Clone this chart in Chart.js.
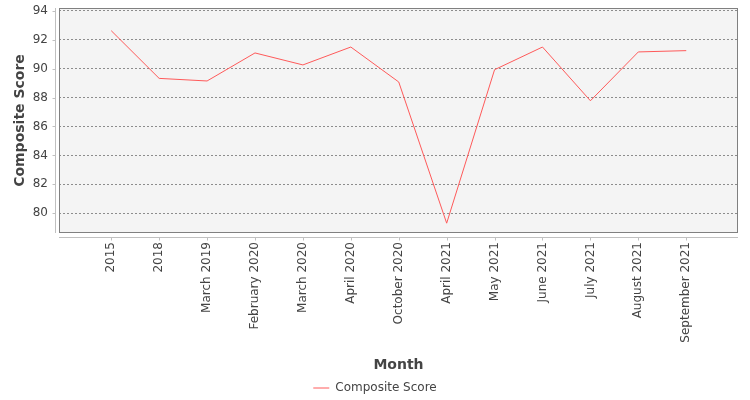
<!DOCTYPE html>
<html>
<head>
<meta charset="utf-8">
<script src="https://cdn.jsdelivr.net/npm/chart.js@4"></script>
<style>
  html, body { margin: 0; padding: 0; background: #ffffff; }
  #wrap { width: 750px; height: 400px; }
</style>
</head>
<body>
<div id="wrap"><canvas id="c" width="750" height="400"></canvas></div>
<script>
const categories = ["2015", "2018", "March 2019", "February 2020", "March 2020", "April 2020",
  "October 2020", "April 2021", "May 2021", "June 2021", "July 2021", "August 2021", "September 2021"];
const compositeScore = [92.63, 89.33, 89.15, 91.09, 90.26, 91.50, 89.08, 79.31, 89.93, 91.50, 87.78, 91.16, 91.25];
const yTickValues = [80, 82, 84, 86, 88, 90, 92, 94];
const seriesName = "Composite Score";
const xTitle = "Month";
const yTitle = "Composite Score";

const FONT = "'DejaVu Sans', 'Liberation Sans', sans-serif";
const TEXT = "#444444";

const plotFrame = {
  id: 'plotFrame',
  beforeDraw(chart) {
    const { ctx, chartArea: a } = chart;
    ctx.save();
    ctx.fillStyle = '#f4f4f4';
    ctx.fillRect(a.left, a.top, a.right - a.left, a.bottom - a.top);
    ctx.restore();
  },
  afterDraw(chart) {
    const { ctx, chartArea: a, scales } = chart;
    ctx.save();
    ctx.setLineDash([]);
    ctx.strokeStyle = '#808080';
    ctx.lineWidth = 1;
    ctx.strokeRect(Math.round(a.left) + 0.5, Math.round(a.top) + 0.5,
      Math.round(a.right - a.left) - 1, Math.round(a.bottom - a.top) - 1);
    ctx.strokeStyle = '#c0c0c0';
    ctx.beginPath();
    const ax = Math.round(a.left) - 4 + 0.5;
    ctx.moveTo(ax, a.top); ctx.lineTo(ax, a.bottom);
    scales.y.ticks.forEach(t => {
      const py = Math.round(scales.y.getPixelForValue(t.value)) + 0.5;
      ctx.moveTo(ax, py); ctx.lineTo(ax - 3, py);
    });
    const ay = Math.round(a.bottom) + 4 + 0.5;
    ctx.moveTo(a.left, ay); ctx.lineTo(a.right, ay);
    scales.x.ticks.forEach(t => {
      const px = Math.round(scales.x.getPixelForValue(t.value)) + 0.5;
      ctx.moveTo(px, ay); ctx.lineTo(px, ay + 3);
    });
    ctx.stroke();
    ctx.restore();
  }
};

new Chart(document.getElementById('c'), {
  type: 'line',
  data: {
    datasets: [{
      label: seriesName,
      data: compositeScore.map((v, i) => ({ x: i, y: v })),
      borderColor: '#ff5a5a',
      backgroundColor: '#ff5a5a',
      borderWidth: 1,
      pointRadius: 0,
      pointHoverRadius: 0,
      tension: 0,
      fill: false
    }]
  },
  options: {
    responsive: false,
    animation: false,
    devicePixelRatio: 1,
    layout: { padding: { top: 8, right: 0, left: 0, bottom: -4 } },
    plugins: {
      tooltip: { enabled: false },
      legend: {
        position: 'bottom',
        labels: {
          usePointStyle: true,
          pointStyle: 'line',
          pointStyleWidth: 16,
          padding: 5,
          color: TEXT,
          font: { family: FONT, size: 12 }
        }
      }
    },
    scales: {
      x: {
        type: 'linear',
        min: -1.09,
        max: 13.08,
        afterBuildTicks(scale) {
          scale.ticks = categories.map((c, i) => ({ value: i }));
        },
        afterFit(scale) {
          scale.height = 144;
          scale.paddingLeft = 0; scale.paddingRight = 0;
        },
        grid: { display: false, drawTicks: false },
        border: { display: false },
        ticks: {
          autoSkip: false,
          minRotation: 90,
          maxRotation: 90,
          padding: 9,
          color: TEXT,
          font: { family: FONT, size: 12 },
          callback: (v) => categories[v]
        },
        title: {
          display: true,
          text: xTitle,
          color: TEXT,
          font: { family: FONT, size: 14, weight: 'bold' },
          padding: { top: 0, bottom: 3.5 }
        }
      },
      y: {
        min: 78.63,
        max: 94.2,
        afterBuildTicks(scale) {
          scale.ticks = yTickValues.map(v => ({ value: v }));
        },
        afterFit(scale) {
          scale.width = 59;
          scale.paddingTop = 0; scale.paddingBottom = 0;
        },
        grid: { color: '#8c8c8c', lineWidth: 1, drawTicks: false },
        border: { display: false, dash: [2, 2] },
        ticks: {
          padding: 11,
          color: TEXT,
          font: { family: FONT, size: 12 }
        },
        title: {
          display: true,
          text: yTitle,
          color: TEXT,
          font: { family: FONT, size: 14, weight: 'bold' },
          padding: { top: 12, bottom: 0 }
        }
      },
      yRight: {
        type: 'linear',
        position: 'right',
        display: true,
        afterFit(scale) {
          scale.width = 12;
          scale.paddingTop = 0; scale.paddingBottom = 0;
        },
        grid: { display: false, drawTicks: false },
        border: { display: false },
        ticks: { display: false }
      }
    }
  },
  plugins: [plotFrame]
});
</script>
</body>
</html>
